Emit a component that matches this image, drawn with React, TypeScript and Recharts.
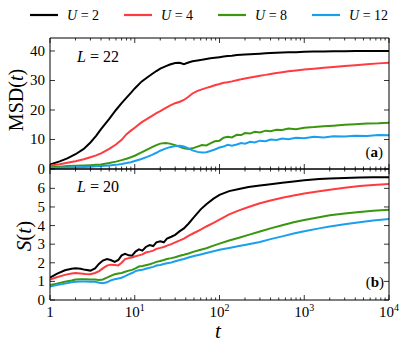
import React from 'react';
import { LineChart, Line, XAxis, YAxis } from 'recharts';

// panel (a): MSD(t), L = 22
const tA = [1, 1.3, 1.6, 2, 2.5, 3, 3.5, 4, 5, 6, 7, 8, 9, 10, 12, 14, 16, 18, 20, 23, 26, 30, 34, 38, 43, 48, 55, 62, 70, 78, 88, 100, 112, 125, 140, 160, 180, 200, 230, 260, 300, 350, 400, 470, 550, 650, 800, 1000, 1300, 1700, 2200, 3000, 4000, 5500, 7500, 10000];
const msdU2 = [1.5, 2.6, 3.6, 5.0, 6.8, 9.0, 11.2, 13.5, 17.0, 20.0, 22.3, 24.2, 25.8, 27.3, 29.6, 31.0, 32.2, 33.2, 34.0, 34.8, 35.4, 35.9, 36.0, 35.5, 36.1, 36.5, 36.8, 37.0, 37.3, 37.5, 37.7, 37.9, 38.1, 38.3, 38.4, 38.6, 38.7, 38.8, 38.9, 39.0, 39.1, 39.2, 39.3, 39.4, 39.5, 39.6, 39.6, 39.7, 39.8, 39.8, 39.9, 39.9, 40.0, 40.0, 40.0, 40.0];
const msdU4 = [1.2, 1.6, 2.1, 2.6, 3.3, 4.0, 4.6, 5.3, 6.8, 8.3, 9.9, 11.8, 13.0, 14.0, 15.8, 17.0, 18.0, 18.9, 19.6, 20.6, 21.5, 22.3, 22.8, 23.4, 24.5, 25.6, 26.5, 27.0, 27.5, 27.9, 28.4, 28.8, 29.2, 29.4, 29.7, 30.1, 30.4, 30.7, 31.0, 31.3, 31.6, 31.9, 32.2, 32.5, 32.8, 33.1, 33.4, 33.7, 34.0, 34.3, 34.6, 34.9, 35.2, 35.5, 35.8, 36.0];
const msdU8 = [0.6, 0.8, 1.0, 1.1, 1.2, 1.3, 1.4, 1.5, 2.0, 2.5, 3.0, 3.5, 4.0, 4.5, 5.6, 6.6, 7.4, 8.1, 8.6, 8.8, 8.6, 8.1, 7.5, 7.0, 6.8, 7.0, 7.6, 8.1, 8.0, 8.7, 9.4, 9.6, 10.6, 10.9, 10.7, 11.6, 11.5, 12.2, 12.0, 12.6, 12.4, 13.0, 12.8, 13.3, 13.2, 13.7, 13.5, 14.0, 14.2, 14.5, 14.7, 15.0, 15.2, 15.4, 15.5, 15.7];
const msdU12 = [0.3, 0.4, 0.5, 0.6, 0.7, 0.8, 0.9, 1.0, 1.2, 1.4, 1.7, 2.0, 2.3, 2.7, 3.4, 4.1, 4.8, 5.5, 6.2, 6.9, 7.4, 7.8, 7.9, 7.6, 7.0, 6.3, 5.8, 5.6, 5.7, 6.1, 6.6, 7.3, 7.6, 8.2, 7.9, 8.3, 8.8, 8.6, 9.2, 9.0, 9.6, 9.4, 10.0, 9.8, 10.3, 10.1, 10.6, 10.4, 10.9, 10.7, 11.1, 11.0, 11.3, 11.2, 11.5, 11.4];

// panel (b): S(t), L = 20
const tB = [1, 1.2, 1.5, 1.8, 2, 2.3, 2.6, 3, 3.4, 3.8, 4.2, 4.7, 5.2, 5.8, 6.4, 7, 7.7, 8.5, 9.3, 10.2, 11.2, 12.3, 13.5, 15, 16.5, 18, 20, 22, 24, 27, 30, 34, 38, 43, 50, 60, 70, 85, 100, 130, 170, 220, 300, 400, 550, 750, 1000, 1500, 2000, 3000, 4500, 6500, 10000];
const sU2 = [1.2, 1.4, 1.6, 1.68, 1.7, 1.68, 1.62, 1.58, 1.7, 1.95, 2.12, 2.2, 2.15, 2.05, 2.15, 2.4, 2.48, 2.4, 2.38, 2.6, 2.72, 2.65, 2.85, 2.95, 2.9, 3.1, 3.15, 3.1, 3.3, 3.4, 3.5, 3.7, 3.85, 4.1, 4.45, 4.87, 5.15, 5.45, 5.65, 5.85, 5.97, 6.07, 6.15, 6.22, 6.3, 6.37, 6.43, 6.5, 6.53, 6.56, 6.58, 6.6, 6.6];
const sU4 = [1.1, 1.22, 1.35, 1.42, 1.45, 1.43, 1.4, 1.38, 1.45, 1.55, 1.7, 1.85, 1.9, 1.88, 1.86, 2.0, 2.2, 2.25, 2.28, 2.35, 2.4, 2.45, 2.55, 2.6, 2.65, 2.75, 2.8, 2.85, 2.92, 3.0, 3.1, 3.2, 3.3, 3.45, 3.6, 3.78, 3.95, 4.15, 4.32, 4.6, 4.82, 5.0, 5.2, 5.35, 5.5, 5.62, 5.72, 5.85, 5.93, 6.03, 6.12, 6.18, 6.24];
const sU8 = [0.8, 0.88, 0.98, 1.05, 1.1, 1.12, 1.12, 1.1, 1.1, 1.08, 1.1, 1.2, 1.3, 1.38, 1.42, 1.45, 1.52, 1.58, 1.62, 1.7, 1.8, 1.83, 1.87, 1.92, 1.98, 2.05, 2.1, 2.15, 2.2, 2.25, 2.3, 2.38, 2.43, 2.5, 2.6, 2.7, 2.78, 2.92, 3.03, 3.2, 3.35, 3.5, 3.68, 3.85, 4.02, 4.18, 4.3, 4.45, 4.55, 4.65, 4.73, 4.8, 4.85];
const sU12 = [0.72, 0.8, 0.88, 0.95, 0.98, 1.0, 1.0, 0.98, 0.98, 0.93, 0.9, 0.95, 1.05, 1.12, 1.16, 1.2, 1.28, 1.38, 1.45, 1.55, 1.6, 1.62, 1.68, 1.73, 1.78, 1.85, 1.88, 1.93, 1.97, 2.02, 2.08, 2.15, 2.2, 2.28, 2.36, 2.45, 2.53, 2.62, 2.7, 2.8, 2.9, 3.0, 3.12, 3.27, 3.42, 3.57, 3.7, 3.85, 3.95, 4.07, 4.18, 4.27, 4.35];

const uLabels = ['2', '4', '8', '12'];
const colors = ['#000000', '#ff3b3f', '#3a960e', '#1a9fef'];
const xMajor = [1, 10, 100, 1000, 10000];
const msdTicks = [0, 10, 20, 30, 40];
const sTicks = [0, 1, 2, 3, 4, 5, 6];

const FONT = 'Liberation Serif, DejaVu Serif, serif';
const serif = { fontFamily: FONT };

const xTicks: number[] = [];
for (let d = 0; d < 4; d++) for (let m = 1; m < 10; m++) xTicks.push(m * Math.pow(10, d));
xTicks.push(10000);

const dataA = tA.map((t, i) => ({ t, u2: msdU2[i], u4: msdU4[i], u8: msdU8[i], u12: msdU12[i] }));
const dataB = tB.map((t, i) => ({ t, u2: sU2[i], u4: sU4[i], u8: sU8[i], u12: sU12[i] }));

const xTick = (side: 'top' | 'bottom', labels: boolean) => (props: any) => {
  const { x, y, payload } = props;
  const v = payload.value;
  const major = xMajor.includes(v);
  const len = major ? 5 : 2.5;
  const dir = side === 'bottom' ? -1 : 1;
  const exp = Math.round(Math.log10(v));
  return (
    <g>
      <line x1={x} x2={x} y1={y} y2={y + dir * len} stroke="#000" strokeWidth={0.8} />
      {labels && major && (
        <text x={x} y={y + 17} textAnchor="middle" fontSize={15} style={serif} fill="#000">
          {v === 1 ? '1' : '10'}
          {v !== 1 && <tspan dy={-6} fontSize={10}>{exp}</tspan>}
        </text>
      )}
    </g>
  );
};

const yTick = (side: 'left' | 'right') => (props: any) => {
  const { x, y, payload } = props;
  const dir = side === 'left' ? 1 : -1;
  return (
    <g>
      <line x1={x} x2={x + dir * 5} y1={y} y2={y} stroke="#000" strokeWidth={0.8} />
      {side === 'left' && (
        <text x={x - 5} y={y + 5} textAnchor="end" fontSize={15} style={serif} fill="#000">
          {payload.value}
        </text>
      )}
    </g>
  );
};

const Panel = ({ data, height, margin, domain, ticks, xLabels }: any) => (
  <LineChart width={407} height={height} data={data} margin={margin}>
    <XAxis dataKey="t" type="number" scale="log" domain={[1, 10000]} ticks={xTicks} interval={0}
      allowDataOverflow height={1} tickSize={0} tickMargin={0} tickLine={false}
      axisLine={{ stroke: '#000', strokeWidth: 1 }} tick={xTick('bottom', xLabels)} />
    <XAxis xAxisId="top" orientation="top" dataKey="t" type="number" scale="log" domain={[1, 10000]}
      ticks={xTicks} interval={0} allowDataOverflow height={1} tickSize={0} tickMargin={0} tickLine={false}
      axisLine={{ stroke: '#000', strokeWidth: 1 }} tick={xTick('top', false)} />
    <YAxis type="number" domain={domain} ticks={ticks} interval={0} allowDataOverflow width={40}
      tickSize={0} tickMargin={0} tickLine={false} axisLine={{ stroke: '#000', strokeWidth: 1 }} tick={yTick('left')} />
    <YAxis yAxisId="right" orientation="right" type="number" domain={domain} ticks={ticks} interval={0}
      allowDataOverflow width={1} tickSize={0} tickMargin={0} tickLine={false}
      axisLine={{ stroke: '#000', strokeWidth: 1 }} tick={yTick('right')} />
    {['u2', 'u4', 'u8', 'u12'].map((k, i) => (
      <Line key={k} dataKey={k} stroke={colors[i]} strokeWidth={2} dot={false} isAnimationActive={false} />
    ))}
  </LineChart>
);

const legendX = [30, 124, 218, 312];

export default function App() {
  return (
    <div style={{ position: 'absolute', left: 0, top: 0, width: 407, height: 349, background: '#fff', fontFamily: FONT }}>
      <div style={{ position: 'absolute', left: 0, top: 0 }}>
        <Panel data={dataA} height={185} margin={{ top: 37, right: 17, bottom: 15, left: 10 }}
          domain={[0, 44.4]} ticks={msdTicks} xLabels={false} />
      </div>
      <div style={{ position: 'absolute', left: 0, top: 0 }}>
        <Panel data={dataB} height={349} margin={{ top: 168, right: 17, bottom: 48, left: 10 }}
          domain={[0, 7.04]} ticks={sTicks} xLabels={true} />
      </div>
      <svg width={407} height={349} style={{ position: 'absolute', left: 0, top: 0, pointerEvents: 'none', fontFamily: FONT }}
        fill="#000">
        {uLabels.map((u, i) => (
          <g key={u}>
            <line x1={legendX[i]} x2={legendX[i] + 28} y1={15} y2={15} stroke={colors[i]} strokeWidth={2.2} />
            <text x={legendX[i] + 37} y={20} fontSize={14}>
              <tspan fontStyle="italic">U</tspan> = {u}
            </text>
          </g>
        ))}
        <text x={77} y={62} fontSize={16}><tspan fontStyle="italic">L</tspan> = 22</text>
        <text x={77} y={192} fontSize={16}><tspan fontStyle="italic">L</tspan> = 20</text>
        <text x={383} y={157} fontSize={15} textAnchor="end">(<tspan fontWeight="bold">a</tspan>)</text>
        <text x={384} y={287} fontSize={15} textAnchor="end">(<tspan fontWeight="bold">b</tspan>)</text>
        <text transform="translate(23,100) rotate(-90)" fontSize={20} textAnchor="middle">
          MSD(<tspan fontStyle="italic">t</tspan>)
        </text>
        <text transform="translate(31,236) rotate(-90)" fontSize={21} textAnchor="middle">
          <tspan fontStyle="italic">S</tspan>(<tspan fontStyle="italic">t</tspan>)
        </text>
        <text x={218} y={338} fontSize={21} fontStyle="italic" textAnchor="middle">t</text>
      </svg>
    </div>
  );
}
